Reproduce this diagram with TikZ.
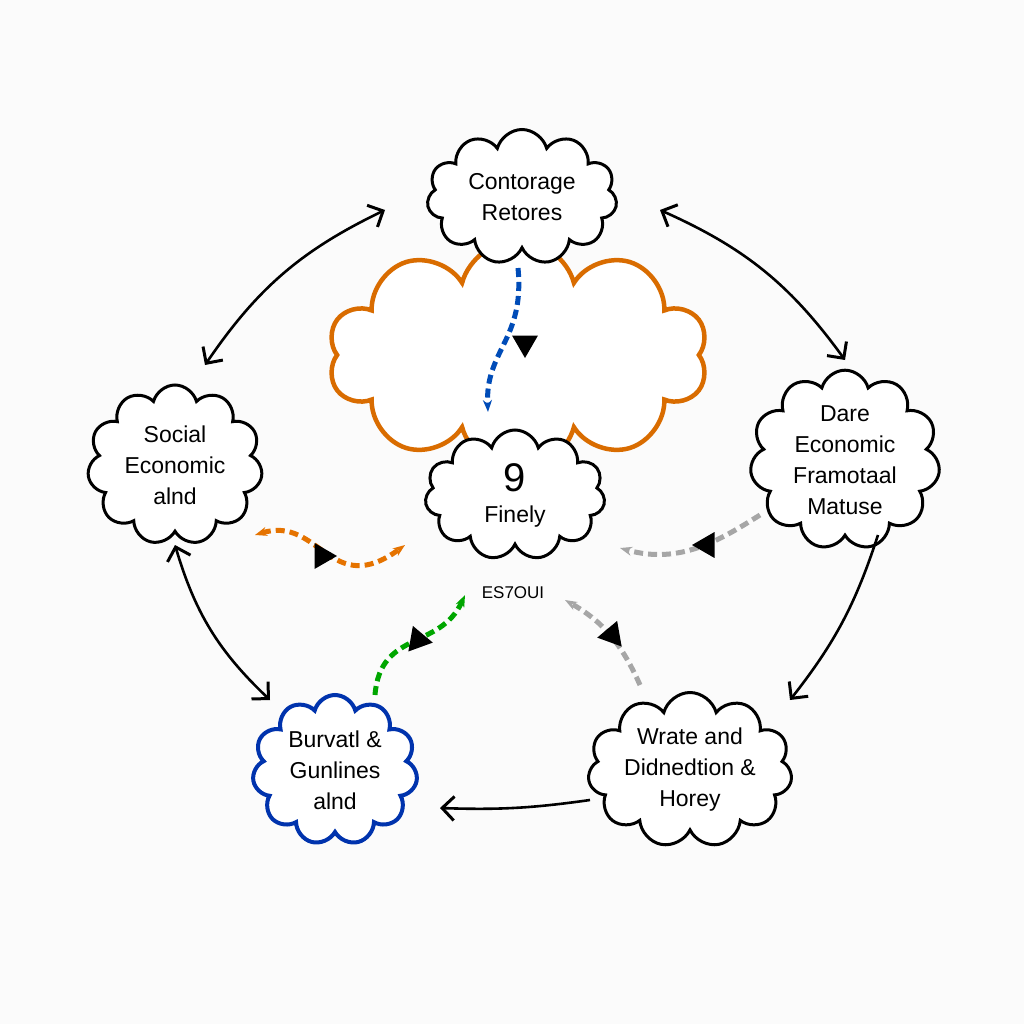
\documentclass[tikz,border=0pt]{standalone}
\usepackage{fontspec}
\setmainfont{Liberation Sans}
\usetikzlibrary{shapes.symbols,shapes.geometric,arrows.meta}
\begin{document}
\begin{tikzpicture}[x=1pt,y=-1pt,
 cl/.style={cloud,cloud puffs=11,cloud ignores aspect,draw=black,line width=3pt,fill=white,align=center,font=\fontsize{23}{31}\selectfont,inner sep=0pt},
 arr/.style={-{Straight Barb[length=12pt,width=24pt,line width=3pt]},line width=2.6pt},
 arr2/.style={{Straight Barb[length=12pt,width=24pt,line width=3pt]}-{Straight Barb[length=12pt,width=24pt,line width=3pt]},line width=2.6pt},
 dsh/.style={line width=5pt,dash pattern=on 9pt off 5pt,-{Stealth[length=12pt]}},
 tri/.style={regular polygon,regular polygon sides=3,fill=black,minimum size=30pt,inner sep=0pt}]
\fill[white!97!gray] (0,0) rectangle (1024,1024);
\useasboundingbox (0,0) rectangle (1024,1024);
\node[cl,draw=orange!85!black,line width=4.5pt,cloud puffs=10,minimum width=380pt,minimum height=230pt] (big) at (518,355) {};
\node[cl,minimum width=190pt,minimum height=135pt] (top) at (522,197) {Contorage\\Retores};
\node[cl,minimum width=180pt,minimum height=130pt] (cen) at (515,495) {{\fontsize{40}{42}\selectfont 9}\\Finely};
\node[cl,minimum width=175pt,minimum height=160pt] (left) at (175,465) {Social\\Economic\\alnd};
\node[cl,minimum width=190pt,minimum height=170pt] (right) at (845,460) {Dare\\Economic\\Framotaal\\Matuse};
\node[cl,draw=blue!60!black!80!cyan,line width=4pt,minimum width=165pt,minimum height=150pt] (bl) at (335,770) {Burvatl \&\\Gunlines\\alnd};
\node[cl,minimum width=195pt,minimum height=155pt] (br) at (690,770) {Wrate and\\Didnedtion \&\\Horey};
\node[font=\fontsize{17}{19}\selectfont] (code) at (513,593) {ES7OUI};
\coordinate (a1) at (205,365); \coordinate (a2) at (385,210);
\coordinate (b1) at (660,210); \coordinate (b2) at (845,360);
\coordinate (c1) at (878,535); \coordinate (c2) at (790,700);
\coordinate (d1) at (590,800); \coordinate (d2) at (440,808);
\coordinate (e1) at (175,545); \coordinate (e2) at (270,700);
\draw[arr2] (a1) to[bend left=15] (a2);
\draw[arr2] (b1) to[bend left=15] (b2);
\draw[arr] (c1) to[bend left=10] (c2);
\draw[arr] (d1) to[bend left=5] (d2);
\draw[arr2] (e1) to[bend right=15] (e2);
\coordinate (f1) at (518,268); \coordinate (f2) at (488,412);
\draw[dsh,blue!60!black!70!cyan] (f1) .. controls (525,340) and (485,350) .. (f2);
\node[tri,rotate=180] (t1) at (525,343) {};
\coordinate (g1) at (255,535); \coordinate (g2) at (405,545);
\draw[dsh,orange!90!black,{Stealth[length=12pt]}-{Stealth[length=12pt]}] (g1) .. controls (320,515) and (330,600) .. (g2);
\node[tri,rotate=30] (t2) at (322,556) {};
\coordinate (h1) at (375,695); \coordinate (h2) at (465,595);
\draw[dsh,green!65!black] (h1) .. controls (380,630) and (440,650) .. (h2);
\node[tri,rotate=20] (t3) at (418,640) {};
\coordinate (i1) at (640,685); \coordinate (i2) at (565,600);
\draw[dsh,gray!70] (i1) .. controls (620,640) and (600,620) .. (i2);
\node[tri,rotate=-20] (t4) at (612,635) {};
\coordinate (j1) at (760,515); \coordinate (j2) at (620,548);
\draw[dsh,gray!70] (j1) .. controls (720,540) and (680,565) .. (j2);
\node[tri,rotate=-30] (t5) at (707,545) {};
\end{tikzpicture}
\end{document}
